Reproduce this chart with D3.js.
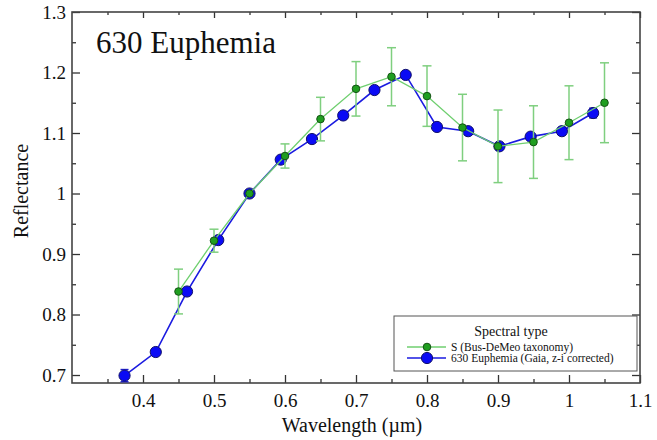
<!DOCTYPE html>
<html>
<head>
<meta charset="utf-8">
<script src="https://cdn.jsdelivr.net/npm/d3@7"></script>
<style>
  body { margin: 0; background: #fff; }
  svg text { font-family: "Liberation Serif", "Times New Roman", serif; fill: #111; }
</style>
</head>
<body>
<div id="chart"></div>
<script>
// S-type (Bus-DeMeo) mean spectrum
var sWave = [0.45, 0.5, 0.55, 0.6, 0.65, 0.7, 0.75, 0.8, 0.85, 0.9, 0.95, 1.0, 1.05];
var sRefl = [0.838, 0.922, 1.0, 1.062, 1.123, 1.173, 1.193, 1.161, 1.109, 1.078, 1.085, 1.117, 1.150];
var sErr  = [0.037, 0.019, 0, 0.020, 0.036, 0.045, 0.048, 0.050, 0.055, 0.060, 0.060, 0.061, 0.066];

// 630 Euphemia, Gaia DR3 reflectance
var gWave = [0.374, 0.418, 0.462, 0.506, 0.55, 0.594, 0.638, 0.682, 0.726, 0.77, 0.814, 0.858, 0.902, 0.946, 0.99, 1.034];
var gRefl = [0.699, 0.738, 0.838, 0.923, 1.0, 1.056, 1.090, 1.129, 1.171, 1.196, 1.110, 1.103, 1.078, 1.094, 1.103, 1.133];
var gErr  = [0.010, 0.004, 0.004, 0.003, 0, 0.003, 0.003, 0.003, 0.003, 0.004, 0.004, 0.004, 0.005, 0.005, 0.006, 0.008];

var xTicks = [0.4, 0.5, 0.6, 0.7, 0.8, 0.9, 1.0, 1.1];
var yTicks = [0.7, 0.8, 0.9, 1.0, 1.1, 1.2, 1.3];

var w = 657, h = 440;
var padL = 72, padR = 640, padT = 12, padB = 383;

var svg = d3.select("#chart").append("svg")
  .attr("width", w)
  .attr("height", h);

var xScale = d3.scaleLinear().domain([0.3, 1.1]).range([padL, padR]);
var yScale = d3.scaleLinear().domain([0.7 - 8 / 606, 1.3]).range([padB, padT]);

var fmt = function(d) { return d === 1 ? "1" : d3.format(".1f")(d); };
var minorX = d3.range(0.35, 1.1, 0.1);
var minorY = d3.range(0.75, 1.3, 0.1);

function styleAxis(g) {
  g.select(".domain").remove();
  g.selectAll(".tick line").attr("stroke", "#333").attr("stroke-width", 1.3);
}

// major ticks with labels (inward)
svg.append("g").attr("transform", "translate(0," + padB + ")")
  .call(d3.axisBottom(xScale).tickValues(xTicks).tickFormat(fmt).tickSizeInner(-8).tickSizeOuter(0).tickPadding(11))
  .call(styleAxis)
  .selectAll("text").attr("font-size", 19).attr("fill", "#111");
svg.append("g").attr("transform", "translate(0," + padT + ")")
  .call(d3.axisTop(xScale).tickValues(xTicks).tickFormat("").tickSizeInner(-6).tickSizeOuter(0))
  .call(styleAxis);
svg.append("g").attr("transform", "translate(" + padL + ",0)")
  .call(d3.axisLeft(yScale).tickValues(yTicks).tickFormat(fmt).tickSizeInner(-8).tickSizeOuter(0).tickPadding(6))
  .call(styleAxis)
  .selectAll("text").attr("font-size", 19).attr("fill", "#111");
svg.append("g").attr("transform", "translate(" + padR + ",0)")
  .call(d3.axisRight(yScale).tickValues(yTicks).tickFormat("").tickSizeInner(-8).tickSizeOuter(0))
  .call(styleAxis);

// minor ticks
svg.append("g").attr("transform", "translate(0," + padB + ")")
  .call(d3.axisBottom(xScale).tickValues(minorX).tickFormat("").tickSizeInner(-4).tickSizeOuter(0)).call(styleAxis);
svg.append("g").attr("transform", "translate(0," + padT + ")")
  .call(d3.axisTop(xScale).tickValues(minorX).tickFormat("").tickSizeInner(-3).tickSizeOuter(0)).call(styleAxis);
svg.append("g").attr("transform", "translate(" + padL + ",0)")
  .call(d3.axisLeft(yScale).tickValues(minorY).tickFormat("").tickSizeInner(-4).tickSizeOuter(0)).call(styleAxis);
svg.append("g").attr("transform", "translate(" + padR + ",0)")
  .call(d3.axisRight(yScale).tickValues(minorY).tickFormat("").tickSizeInner(-4).tickSizeOuter(0)).call(styleAxis);

// frame
svg.append("rect")
  .attr("x", padL).attr("y", padT)
  .attr("width", padR - padL).attr("height", padB - padT)
  .attr("fill", "none").attr("stroke", "#444").attr("stroke-width", 1.6);

// axis labels and title
svg.append("text")
  .attr("x", 352).attr("y", 432)
  .attr("text-anchor", "middle").attr("font-size", 20)
  .text("Wavelength (\u00b5m)");
svg.append("text")
  .attr("text-anchor", "middle").attr("font-size", 20)
  .attr("transform", "translate(28," + 191 + ")rotate(-90)")
  .text("Reflectance");
svg.append("text")
  .attr("x", 96).attr("y", 53)
  .attr("font-size", 31)
  .text("630 Euphemia");

var line = d3.line().x(function(d) { return xScale(d[0]); }).y(function(d) { return yScale(d[1]); });

function drawSeries(wave, refl, err, opt) {
  var pts = wave.map(function(x, i) { return [x, refl[i], err[i]]; });
  var g = svg.append("g");
  g.append("path").datum(pts).attr("d", line)
    .attr("fill", "none").attr("stroke", opt.line).attr("stroke-width", opt.lw);
  var eb = g.selectAll(".eb").data(pts.filter(function(d) { return d[2] > 0; })).enter().append("g");
  eb.append("line")
    .attr("x1", function(d) { return xScale(d[0]); }).attr("x2", function(d) { return xScale(d[0]); })
    .attr("y1", function(d) { return yScale(d[1] - d[2]); }).attr("y2", function(d) { return yScale(d[1] + d[2]); })
    .attr("stroke", opt.err).attr("stroke-width", 1.5);
  [-1, 1].forEach(function(s) {
    eb.append("line")
      .attr("x1", function(d) { return xScale(d[0]) - opt.cap; }).attr("x2", function(d) { return xScale(d[0]) + opt.cap; })
      .attr("y1", function(d) { return yScale(d[1] + s * d[2]); }).attr("y2", function(d) { return yScale(d[1] + s * d[2]); })
      .attr("stroke", opt.err).attr("stroke-width", 1.5);
  });
  g.selectAll("circle").data(pts).enter().append("circle")
    .attr("cx", function(d) { return xScale(d[0]); })
    .attr("cy", function(d) { return yScale(d[1]); })
    .attr("r", opt.r)
    .attr("fill", opt.fill).attr("stroke", opt.stroke).attr("stroke-width", 1);
}

var gaiaStyle = { line: "#1a1ae0", lw: 1.6, err: "#2020d0", cap: 4, r: 5.6, fill: "#0a0af5", stroke: "#10106a" };
var sStyle = { line: "#6fcf6f", lw: 1.3, err: "#7fcf7f", cap: 4.5, r: 3.8, fill: "#1f9e1f", stroke: "#145214" };

drawSeries(gWave, gRefl, gErr, gaiaStyle);
drawSeries(sWave, sRefl, sErr, sStyle);

// legend
var lg = svg.append("g");
lg.append("rect")
  .attr("x", 394).attr("y", 316).attr("width", 243).attr("height", 55)
  .attr("fill", "#fff").attr("stroke", "#555").attr("stroke-width", 1);
lg.append("text").attr("x", 511).attr("y", 336)
  .attr("text-anchor", "middle").attr("font-size", 14).text("Spectral type");
var legendItems = [
  { label: "S (Bus-DeMeo taxonomy)", st: sStyle, y: 347 },
  { label: "630 Euphemia (Gaia, z-i corrected)", st: gaiaStyle, y: 358 }
];
legendItems.forEach(function(it) {
  lg.append("line").attr("x1", 407).attr("x2", 446).attr("y1", it.y).attr("y2", it.y)
    .attr("stroke", it.st.line).attr("stroke-width", it.st.lw);
  lg.append("circle").attr("cx", 427).attr("cy", it.y).attr("r", it.st.r)
    .attr("fill", it.st.fill).attr("stroke", it.st.stroke);
  lg.append("text").attr("x", 451).attr("y", it.y + 4)
    .attr("font-size", 11.5).text(it.label);
});
</script>
</body>
</html>
